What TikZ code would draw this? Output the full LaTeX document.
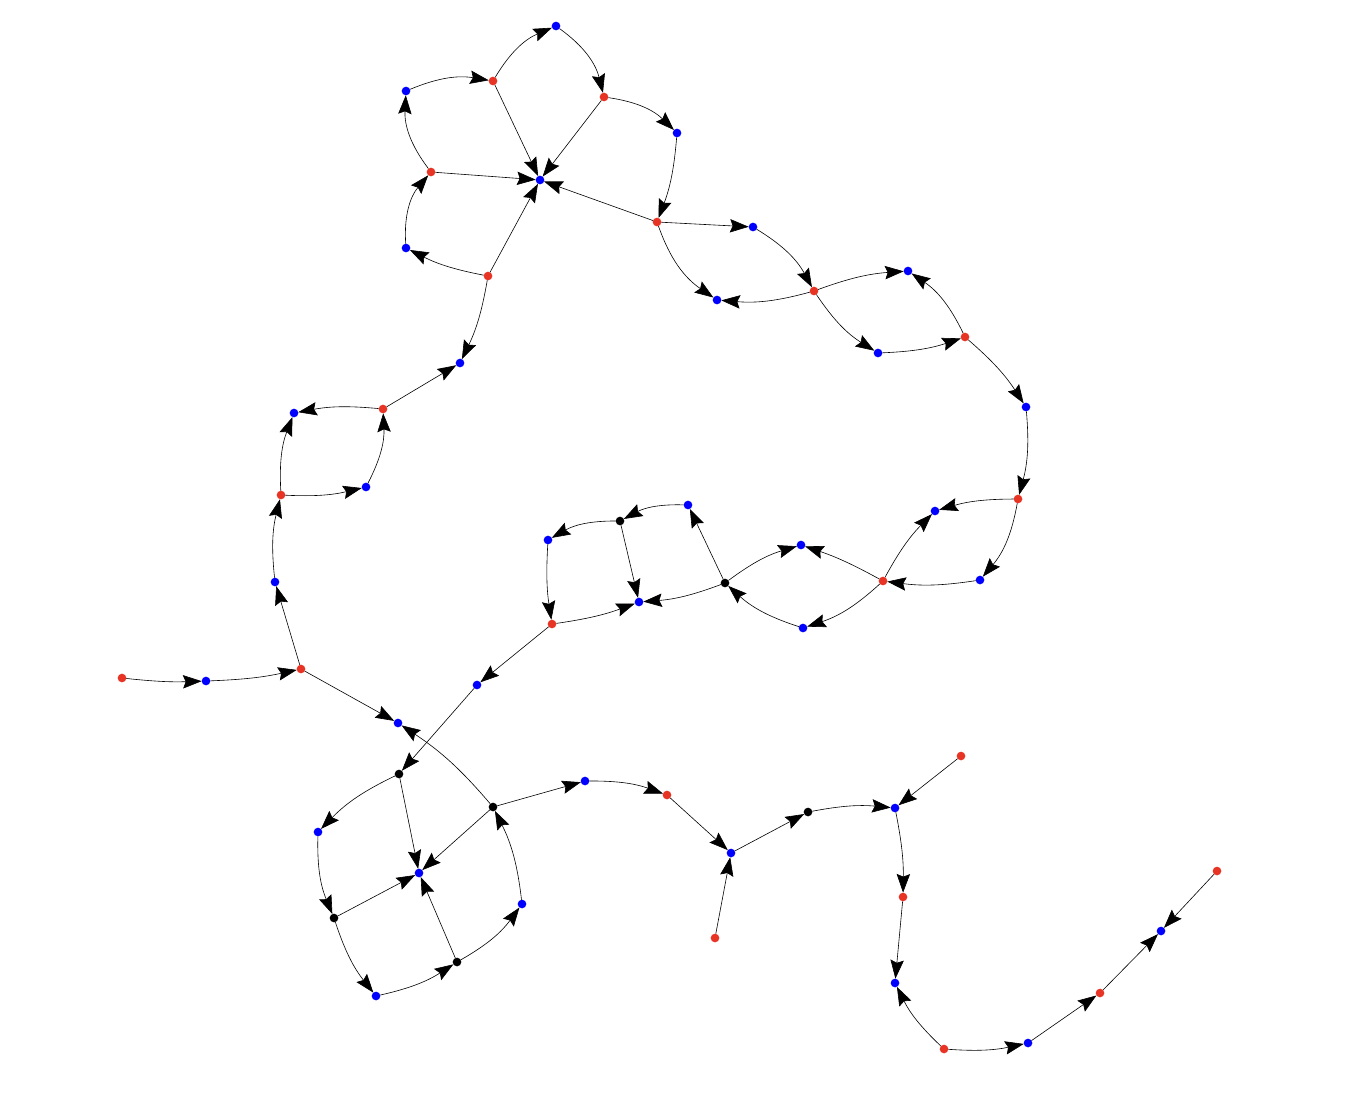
\documentclass[tikz,border=0pt]{standalone}
\usetikzlibrary{arrows.meta}
\begin{document}
\begin{tikzpicture}[x=0.75pt,y=0.75pt,yscale=-1,xscale=1,
  vred/.style={circle,fill={rgb, 255:red, 232; green, 52; blue, 36 },inner sep=0pt,outer sep=0pt,minimum size=6.5pt},
  vblue/.style={circle,fill={rgb, 255:red, 0; green, 0; blue, 255 },inner sep=0pt,outer sep=0pt,minimum size=6.5pt},
  vblack/.style={circle,fill=black,inner sep=0pt,outer sep=0pt,minimum size=6.5pt},
  arr/.style={-{Stealth[length=14pt,width=10pt,inset=2pt]},line width=0.45pt}]
\useasboundingbox (0,0) rectangle (1362,1104);

%Vertices: upper part
\node[vblue] (b1) at (556,26) {};
\node[vred] (r1) at (493,81) {};
\node[vblue] (b2) at (406,91) {};
\node[vred] (r2) at (604,97) {};
\node[vblue] (b3) at (677,133) {};
\node[vred] (r3) at (431,172) {};
\node[vblue] (c) at (540,180) {};
\node[vred] (r4) at (657,222) {};
\node[vblue] (b4) at (753,227) {};
\node[vblue] (b5) at (406,248) {};
\node[vred] (r5) at (488,276) {};
\node[vblue] (b6) at (908,271) {};
\node[vred] (r6) at (814,291) {};
\node[vblue] (b7) at (717,300) {};
\node[vred] (r7) at (965,337) {};
\node[vblue] (b8) at (878,353) {};
\node[vblue] (b9) at (460,363) {};
\node[vred] (r8) at (383,409) {};
\node[vblue] (b10) at (294,413) {};
\node[vblue] (b11) at (1026,407) {};
\node[vblue] (b12) at (366,487) {};
\node[vred] (r9) at (281,495) {};
\node[vred] (r10) at (1018,499) {};
%Vertices: middle part
\node[vblue] (b13) at (688,505) {};
\node[vblue] (b14) at (935,511) {};
\node[vblack] (k1) at (620,521) {};
\node[vblue] (b15) at (548,540) {};
\node[vblue] (b16) at (801,545) {};
\node[vblue] (b17) at (980,580) {};
\node[vred] (r11) at (883,581) {};
\node[vblue] (b18) at (275,582) {};
\node[vblack] (k2) at (725,583) {};
\node[vblue] (b19) at (639,602) {};
\node[vred] (r12) at (552,624) {};
\node[vblue] (b20) at (803,628) {};
\node[vred] (r13) at (301,669) {};
\node[vred] (r14) at (122,678) {};
\node[vblue] (b21) at (206,681) {};
\node[vblue] (b22) at (477,685) {};
\node[vblue] (b23) at (398,723) {};
%Vertices: lower part
\node[vred] (r15) at (961,756) {};
\node[vblack] (k3) at (399,774) {};
\node[vblue] (b24) at (585,781) {};
\node[vred] (r16) at (667,795) {};
\node[vblack] (k4) at (493,807) {};
\node[vblue] (b25) at (895,808) {};
\node[vblack] (k5) at (808,812) {};
\node[vblue] (b26) at (318,832) {};
\node[vblue] (b27) at (731,853) {};
\node[vred] (r17) at (1217,871) {};
\node[vblue] (b28) at (419,873) {};
\node[vred] (r18) at (903,897) {};
\node[vblue] (b29) at (522,904) {};
\node[vblack] (k6) at (334,918) {};
\node[vblue] (b30) at (1161,931) {};
\node[vred] (r19) at (715,938) {};
\node[vblack] (k7) at (457,962) {};
\node[vblue] (b31) at (895,983) {};
\node[vblue] (b32) at (376,996) {};
\node[vred] (r20) at (1100,993) {};
\node[vred] (r21) at (944,1049) {};
\node[vblue] (b33) at (1028,1043) {};

%Edges: upper part
\draw[arr] (b2) to[bend right=16] (r1);
\draw[arr] (r1) to[bend right=18] (b1);
\draw[arr] (b1) to[bend right=20] (r2);
\draw[arr] (r2) to[bend right=18] (b3);
\draw[arr] (b3) to[bend right=8] (r4);
\draw[arr] (r1) -- (c);
\draw[arr] (r2) -- (c);
\draw[arr] (r3) -- (c);
\draw[arr] (r5) -- (c);
\draw[arr] (r4) -- (c);
\draw[arr] (r3) to[bend right=20] (b2);
\draw[arr] (b5) to[bend right=22] (r3);
\draw[arr] (r5) to[bend right=8] (b5);
\draw[arr] (r5) to[bend right=8] (b9);
\draw[arr] (r4) -- (b4);
\draw[arr] (b4) to[bend right=15] (r6);
\draw[arr] (r4) to[bend left=18] (b7);
\draw[arr] (r6) to[bend right=10] (b7);
\draw[arr] (r6) to[bend right=8] (b6);
\draw[arr] (r7) to[bend left=15] (b6);
\draw[arr] (r6) to[bend left=12] (b8);
\draw[arr] (b8) to[bend left=8] (r7);
\draw[arr] (r7) to[bend right=8] (b11);
\draw[arr] (b11) to[bend right=10] (r10);
\draw[arr] (r8) -- (b9);
\draw[arr] (r8) to[bend left=8] (b10);
\draw[arr] (r9) to[bend right=12] (b10);
\draw[arr] (r9) to[bend left=8] (b12);
\draw[arr] (b12) to[bend left=15] (r8);
\draw[arr] (b18) to[bend right=10] (r9);

%Edges: middle part
\draw[arr] (r10) to[bend left=8] (b14);
\draw[arr] (r11) to[bend right=8] (b14);
\draw[arr] (r10) to[bend right=15] (b17);
\draw[arr] (b17) to[bend right=8] (r11);
\draw[arr] (r11) to[bend left=5] (b16);
\draw[arr] (k2) to[bend right=10] (b16);
\draw[arr] (r11) to[bend right=12] (b20);
\draw[arr] (b20) to[bend right=12] (k2);
\draw[arr] (k2) -- (b13);
\draw[arr] (k2) to[bend right=8] (b19);
\draw[arr] (r12) to[bend left=6] (b19);
\draw[arr] (k1) -- (b19);
\draw[arr] (b13) to[bend left=15] (k1);
\draw[arr] (k1) to[bend left=15] (b15);
\draw[arr] (b15) to[bend left=6] (r12);
\draw[arr] (r12) -- (b22);
\draw[arr] (r13) -- (b18);
\draw[arr] (r14) to[bend left=4] (b21);
\draw[arr] (b21) to[bend left=5] (r13);
\draw[arr] (r13) -- (b23);

%Edges: lower part
\draw[arr] (k4) to[bend left=8] (b23);
\draw[arr] (b22) -- (k3);
\draw[arr] (k3) to[bend left=10] (b26);
\draw[arr] (k3) -- (b28);
\draw[arr] (k4) -- (b28);
\draw[arr] (k6) -- (b28);
\draw[arr] (k7) -- (b28);
\draw[arr] (b26) to[bend left=12] (k6);
\draw[arr] (k6) to[bend left=10] (b32);
\draw[arr] (b32) to[bend left=10] (k7);
\draw[arr] (k7) to[bend left=12] (b29);
\draw[arr] (b29) to[bend left=10] (k4);
\draw[arr] (k4) -- (b24);
\draw[arr] (b24) to[bend right=10] (r16);
\draw[arr] (r16) -- (b27);
\draw[arr] (r19) -- (b27);
\draw[arr] (b27) -- (k5);
\draw[arr] (k5) to[bend right=8] (b25);
\draw[arr] (r15) -- (b25);
\draw[arr] (b25) to[bend right=6] (r18);
\draw[arr] (r18) -- (b31);
\draw[arr] (r21) to[bend right=10] (b31);
\draw[arr] (r21) to[bend left=8] (b33);
\draw[arr] (b33) -- (r20);
\draw[arr] (r20) -- (b30);
\draw[arr] (r17) -- (b30);
\end{tikzpicture}
\end{document}
